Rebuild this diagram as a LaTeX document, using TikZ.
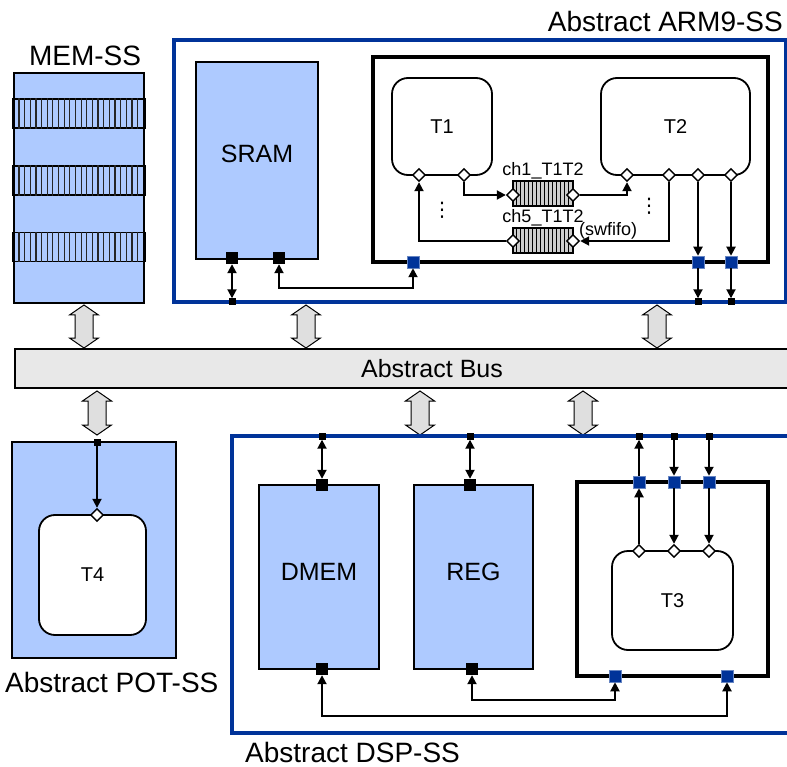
\documentclass[tikz,border=0pt]{standalone}
\usepackage{fontspec}
\setmainfont{Liberation Sans}
\newfontfamily\symfont{DejaVu Sans}
\usetikzlibrary{positioning,shapes.geometric,arrows.meta,calc}
\definecolor{memblue}{RGB}{174,202,255}
\definecolor{ssblue}{RGB}{0,51,153}
\definecolor{busgray}{RGB}{232,232,232}
\definecolor{fifogray}{RGB}{205,205,205}
\newcommand{\lblfont}{\fontsize{28}{30}\selectfont}
\newcommand{\blkfont}{\fontsize{25}{27}\selectfont}
\newcommand{\taskfont}{\fontsize{20}{22}\selectfont}
\newcommand{\chfont}{\fontsize{18}{20}\selectfont}
\tikzset{
  subsys/.style={draw=ssblue, line width=3.4pt, inner sep=0pt},
  membox/.style={draw, fill=memblue, line width=1.8pt, inner sep=0pt},
  memband/.style={draw, fill=memblue, line width=1.4pt, inner sep=0pt,
                  minimum width=130pt, minimum height=29pt},
  stripe/.style={line width=1.2pt, draw=black!85},
  procbox/.style={draw, line width=3.8pt, inner sep=0pt},
  task/.style={draw, fill=white, rounded corners=16pt, line width=1.8pt, inner sep=0pt},
  port/.style={fill=black, inner sep=0pt, minimum size=12pt},
  bport/.style={fill=ssblue, draw=ssblue!60, line width=0.5pt, inner sep=0pt, minimum size=12pt},
  sport/.style={fill=black, inner sep=0pt, minimum size=7pt},
  tport/.style={diamond, draw, fill=white, line width=1.4pt, inner sep=0pt, minimum size=13pt},
  fifo/.style={draw, fill=fifogray, line width=1.4pt, inner sep=0pt,
               minimum width=60pt, minimum height=25pt},
  moredots/.style={font=\symfont\fontsize{20}{22}\selectfont, inner sep=0pt},
  arr/.style={-{Triangle[length=9pt,width=9pt]}, line width=1.9pt},
  darr/.style={{Triangle[length=9pt,width=9pt]}-{Triangle[length=9pt,width=9pt]}, line width=1.9pt},
  busarr/.style={draw, fill=gray!25, line width=1pt, line join=miter},
  lbl/.style={font=\lblfont, inner sep=0pt}
}
% gray bus link: x, top y, bottom y
\newcommand{\buslink}[3]{%
  \draw[busarr] (#1,#2) -- (#1+14.5,#2+10) -- (#1+9,#2+10) -- (#1+9,#3-10)
    -- (#1+14.5,#3-10) -- (#1,#3) -- (#1-14.5,#3-10) -- (#1-9,#3-10)
    -- (#1-9,#2+10) -- (#1-14.5,#2+10) -- cycle;}

\begin{document}
\begin{tikzpicture}[x=1pt, y=-1pt]
\useasboundingbox (0,0) rectangle (787,767);

% ---- ARM9 subsystem
\node[subsys, minimum width=612pt, minimum height=262pt] (arm) at (480,171) {};
\node[lbl, anchor=base east] (armlbl) at (783,32) {Abstract ARM9-SS};
\node[membox, minimum width=122pt, minimum height=197pt, text depth=14pt,
      font=\blkfont] (sram) at (257,160.5) {SRAM};
\node[procbox, minimum width=395pt, minimum height=205pt] (cpu) at (570.5,159.5) {};
\node[task, minimum width=100pt, minimum height=97pt, font=\taskfont] (t1) at (442,126.5) {T1};
\node[task, minimum width=149pt, minimum height=97pt, font=\taskfont] (t2) at (675.5,126.5) {T2};
\node[fifo] (ch1) at (543,193.5) {};
\node[fifo] (ch5) at (543,240.5) {};
\foreach \f in {ch1,ch5}
  \foreach \i in {1,...,14}
    \draw[line width=0.8pt] ($(\f.north west)+(\i*4,0)$) -- ($(\f.south west)+(\i*4,0)$);
\node[font=\chfont, anchor=base] (ch1lbl) at (543,176) {ch1\_T1T2};
\node[font=\chfont, anchor=base] (ch5lbl) at (543,223) {ch5\_T1T2};
\node[font=\chfont, anchor=base west, inner sep=0pt] (swlbl) at (579,236) {(swfifo)};
\node[moredots] (dots1) at (442,210) {⋮};
\node[moredots] (dots2) at (649,206) {⋮};

\node[tport] (t1p1) at (419,175) {};
\node[tport] (t1p2) at (464,175) {};
\node[tport] (t2p1) at (627,175) {};
\node[tport] (t2p2) at (669,175) {};
\node[tport] (t2p3) at (698,175) {};
\node[tport] (t2p4) at (731,175) {};
\node[tport] (ch1in) at (513,195) {};
\node[tport] (ch1out) at (573,195) {};
\node[tport] (ch5in) at (513,241) {};
\node[tport] (ch5out) at (573,241) {};

\node[port] (sp1) at (232,258) {};
\node[port] (sp2) at (279,258) {};
\node[bport] (abp1) at (413,262) {};
\node[bport] (abp2) at (698,262) {};
\node[bport] (abp3) at (731,262) {};
\node[sport] (asq1) at (232,302) {};
\node[sport] (asq2) at (698,302) {};
\node[sport] (asq3) at (731,302) {};
\coordinate (srambus) at (413,288);

\draw[arr] (t1p2.south) |- (ch1in.west);
\draw[arr] (ch1out.east) -| (t2p1.south);
\draw[arr] (t2p2.south) |- (ch5out.east);
\draw[arr] (ch5in.west) -| (t1p1.south);
\draw[arr] (t2p3.south) -- (abp2.north);
\draw[arr] (t2p4.south) -- (abp3.north);
\draw[arr] (abp2.south) -- (asq2.north);
\draw[arr] (abp3.south) -- (asq3.north);
\draw[darr] (sp1.south) -- (asq1.north);
\draw[darr] (sp2.south) |- (srambus) -- (abp1.south);

% ---- MEM subsystem
\node[membox, minimum width=130pt, minimum height=230pt] (mem) at (79,188) {};
\node[lbl, anchor=base] (memlbl) at (85,66) {MEM-SS};
\foreach \y [count=\k] in {113.5,180.5,247} {
  \node[memband] (band\k) at (79,\y) {};
  \foreach \i in {1,...,22}
    \draw[stripe] ($(band\k.north west)+(\i*5.65,0)$) -- ($(band\k.south west)+(\i*5.65,0)$);
  \draw[line width=3pt] (band\k.north west) -- (band\k.south west)
                        (band\k.north east) -- (band\k.south east);
}

% ---- bus
\node[draw, fill=busgray, line width=1.8pt, minimum width=834pt, minimum height=39pt,
      font=\blkfont] (bus) at (432,368.5) {Abstract Bus};
\buslink{84}{305}{348}
\buslink{306}{305}{348}
\buslink{657}{305}{348}
\buslink{97}{391}{435}
\buslink{420}{391}{435}
\buslink{583}{391}{435}

% ---- POT subsystem
\node[membox, minimum width=164pt, minimum height=216pt] (pot) at (94,550) {};
\node[lbl, anchor=base west] (potlbl) at (5,692) {Abstract POT-SS};
\node[task, minimum width=107pt, minimum height=120pt, font=\taskfont] (t4) at (92.5,575) {T4};
\node[sport] (psq) at (97,442) {};
\node[tport] (t4p) at (97,515) {};
\draw[arr] (psq.south) -- (t4p.north);

% ---- DSP subsystem
\node[subsys, minimum width=568pt, minimum height=297pt] (dsp) at (516,584.5) {};
\node[lbl, anchor=base west] (dsplbl) at (245,762) {Abstract DSP-SS};
\node[membox, minimum width=120pt, minimum height=184pt, text depth=10pt,
      font=\blkfont] (dmem) at (319,577) {DMEM};
\node[membox, minimum width=119pt, minimum height=184pt, text depth=10pt,
      font=\blkfont] (reg) at (473.5,577) {REG};
\node[procbox, minimum width=191pt, minimum height=194pt] (dsppu) at (672.5,579) {};
\node[task, minimum width=121pt, minimum height=99pt, font=\taskfont] (t3) at (672.5,600.5) {T3};

\node[port] (dmt) at (322,485) {};
\node[port] (dmb) at (322,669) {};
\node[port] (rgt) at (470,485) {};
\node[port] (rgb) at (472,669) {};
\node[sport] (dsq1) at (322,436) {};
\node[sport] (dsq2) at (470,436) {};
\node[sport] (dsq3) at (639,436) {};
\node[sport] (dsq4) at (674,436) {};
\node[sport] (dsq5) at (709,436) {};
\node[bport] (dbp1) at (639,482) {};
\node[bport] (dbp2) at (674,482) {};
\node[bport] (dbp3) at (709,482) {};
\node[bport] (dbp4) at (615,676) {};
\node[bport] (dbp5) at (727,676) {};
\node[tport] (t3p1) at (639,551) {};
\node[tport] (t3p2) at (674,551) {};
\node[tport] (t3p3) at (709,551) {};
\coordinate (regbus) at (615,700);
\coordinate (dmembus) at (727,716);

\draw[darr] (dsq1.south) -- (dmt.north);
\draw[darr] (dsq2.south) -- (rgt.north);
\draw[arr] (t3p1.north) -- (dbp1.south);
\draw[arr] (dbp1.north) -- (dsq3.south);
\draw[arr] (dsq4.south) -- (dbp2.north);
\draw[arr] (dbp2.south) -- (t3p2.north);
\draw[arr] (dsq5.south) -- (dbp3.north);
\draw[arr] (dbp3.south) -- (t3p3.north);
\draw[darr] (rgb.south) |- (regbus) -- (dbp4.south);
\draw[darr] (dmb.south) |- (dmembus) -- (dbp5.south);
\end{tikzpicture}
\end{document}
